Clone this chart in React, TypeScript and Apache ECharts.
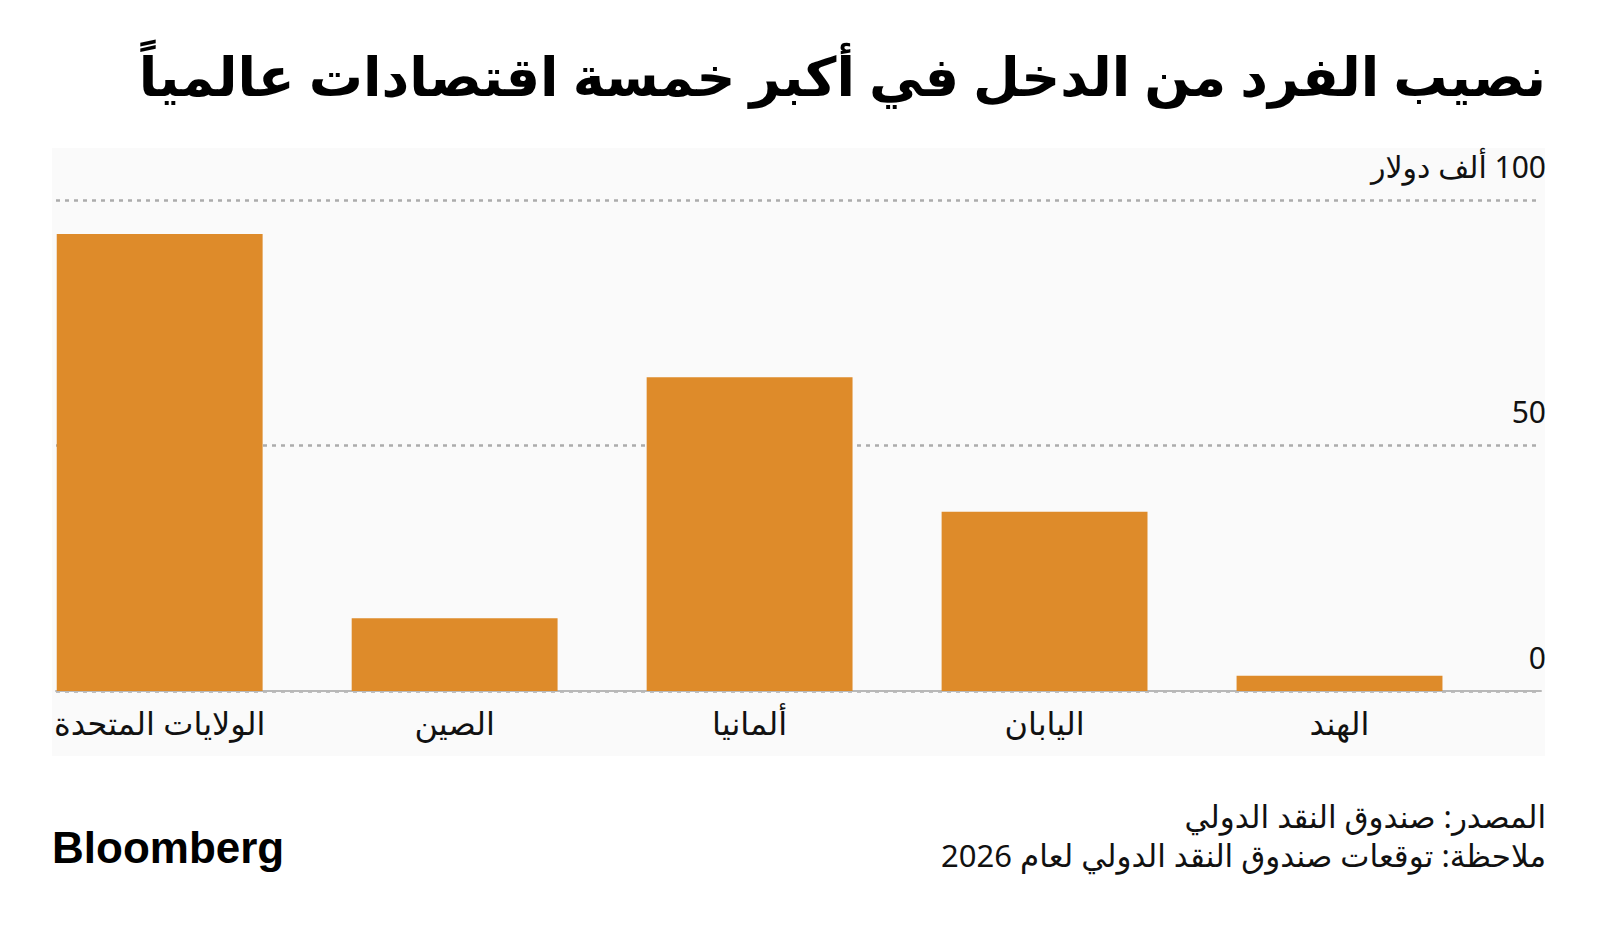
import React, { useEffect, useRef } from "react";
import * as echarts from "echarts";

const categories = ["الولايات المتحدة", "الصين", "ألمانيا", "اليابان", "الهند"];
const values = [93.1, 14.8, 63.9, 36.5, 3.1];
const yTicks = [0, 50, 100];
const yUnit = "ألف دولار";

const titleText = "نصيب الفرد من الدخل في أكبر خمسة اقتصادات عالمياً";
const sourceText = "المصدر: صندوق النقد الدولي";
const noteText = "ملاحظة: توقعات صندوق النقد الدولي لعام 2026";

const FONT = "'Noto Sans', 'DejaVu Sans', sans-serif";

export default function App() {
  const ref = useRef<HTMLDivElement>(null);
  useEffect(() => {
    if (!ref.current) return;
    const chart = echarts.init(ref.current, undefined, { renderer: "svg" });
    const option = {
      animation: false,
      backgroundColor: "#ffffff",
      textStyle: { fontFamily: FONT },
      title: [
        {
          text: titleText,
          right: 54,
          top: 43,
          padding: 0,
          textStyle: { fontSize: 54, fontWeight: "bold", color: "#000", lineHeight: 64, fontFamily: FONT },
        },
        {
          text: sourceText,
          right: 54,
          top: 798,
          padding: 0,
          textStyle: { fontSize: 31, fontWeight: "normal", color: "#111", lineHeight: 36, fontFamily: FONT },
        },
        {
          text: noteText,
          right: 54,
          top: 837,
          padding: 0,
          textStyle: { fontSize: 31, fontWeight: "normal", color: "#111", lineHeight: 36, fontFamily: FONT },
        },
        {
          text: "Bloomberg",
          left: 52,
          top: 824,
          padding: 0,
          textStyle: { fontSize: 44, fontWeight: "bold", color: "#000", lineHeight: 46, fontFamily: "'Liberation Sans', Arial, sans-serif" },
        },
      ],
      graphic: [
        {
          type: "rect",
          z: -10,
          shape: { x: 52, y: 148, width: 1493, height: 608 },
          style: { fill: "#fafafa" },
          silent: true,
        },
      ],
      grid: [
        { left: 12.2, right: 113, top: 200, bottom: 242, containLabel: false },
        { left: 56, right: 59, top: 200, bottom: 242, containLabel: false },
      ],
      xAxis: [
        {
          type: "category",
          gridIndex: 0,
          data: categories,
          axisLine: { show: false },
          axisTick: { show: false },
          axisLabel: { fontSize: 32, color: "#111", margin: 14, lineHeight: 34, fontFamily: FONT },
        },
        {
          type: "value",
          gridIndex: 1,
          min: 0,
          max: 1,
          axisLine: { show: true, onZero: false, lineStyle: { color: "#b8b8b8", width: 2 } },
          axisTick: { show: false },
          axisLabel: { show: false },
          splitLine: { show: false },
        },
      ],
      yAxis: [
        {
          type: "value",
          gridIndex: 0,
          min: 0,
          max: 100,
          interval: 50,
          show: false,
          splitLine: { show: false },
        },
        {
          type: "value",
          gridIndex: 1,
          position: "right",
          min: 0,
          max: 100,
          interval: 50,
          axisLine: { show: false },
          axisTick: { show: false },
          splitLine: { show: true, lineStyle: { color: "#acacac", width: 2.5, type: [4, 5] } },
          axisLabel: {
            inside: true,
            margin: -5,
            align: "right",
            verticalAlign: "bottom",
            fontSize: 30,
            lineHeight: 30,
            padding: [0, 0, 19, 0],
            color: "#111",
            fontFamily: FONT,
            formatter: (v: number) => (v === yTicks[yTicks.length - 1] ? "\u200F" + v + " " + yUnit : String(v)),
          },
        },
      ],
      series: [
        {
          type: "bar",
          xAxisIndex: 0,
          yAxisIndex: 0,
          data: values,
          barCategoryGap: "30.2%",
          itemStyle: { color: "#de8b2a" },
          z: 3,
        },
      ],
    };
    chart.setOption(option as any);
    return () => chart.dispose();
  }, []);
  return (
    <div
      ref={ref}
      style={{ position: "absolute", left: 0, top: 0, width: 1600, height: 933, background: "#fff" }}
    />
  );
}
